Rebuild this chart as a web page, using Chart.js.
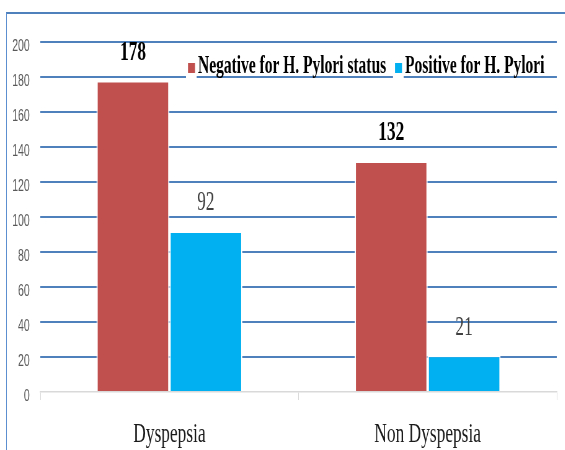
<!DOCTYPE html>
<html>
<head>
<meta charset="utf-8">
<script src="https://cdn.jsdelivr.net/npm/chart.js@4"></script>
<style>
html,body{margin:0;padding:0;background:#fff;overflow:hidden;width:565px;height:450px;}
#c{position:absolute;left:0;top:0;transform:scaleX(0.62);transform-origin:0 0;}
#frame{position:absolute;left:6px;top:12px;width:700px;height:600px;border-top:2px solid #4f81bd;border-left:1.5px solid #5b8fd0;pointer-events:none;}
</style>
</head>
<body>
<canvas id="c" width="911" height="450"></canvas>
<div id="frame"></div>
<script>
const categories = ['Dyspepsia', 'Non Dyspepsia'];
const negativeValues = [178, 132];
const positiveValues = [92, 21];
const seriesNames = ['Negative for H. Pylori status', 'Positive for H. Pylori'];
const yTicks = [0, 20, 40, 60, 80, 100, 120, 140, 160, 180, 200];

const SX = 0.62;

const valueLabels = {
  id: 'valueLabels',
  afterDatasetsDraw(chart) {
    const ctx = chart.ctx;
    ctx.save();
    ctx.textAlign = 'center';
    ctx.textBaseline = 'middle';
    chart.data.datasets.forEach((ds, i) => {
      const meta = chart.getDatasetMeta(i);
      ctx.font = (i === 0 ? 'bold ' : '') + '28px "Liberation Serif", "Times New Roman", serif';
      ctx.fillStyle = i === 0 ? '#000000' : '#404040';
      meta.data.forEach((el, j) => {
        ctx.fillText(String(ds.data[j]), el.x, el.y - 28);
      });
    });
    ctx.restore();
  }
};

const legendPlugin = {
  id: 'customLegend',
  afterDatasetsDraw(chart) {
    const ctx = chart.ctx;
    const items = [
      { mx: 188 / SX, tx: 198 / SX },
      { mx: 395 / SX, tx: 405 / SX }
    ];
    ctx.save();
    ctx.font = 'bold 25px "Liberation Serif", "Times New Roman", serif';
    ctx.textBaseline = 'alphabetic';
    ctx.textAlign = 'left';
    chart.data.datasets.forEach((ds, i) => {
      const it = items[i];
      ctx.fillStyle = '#ffffff';
      ctx.fillRect(it.mx - 2 / SX, 60, it.tx - it.mx + 1, 20);
      ctx.fillStyle = ds.backgroundColor;
      ctx.fillRect(it.mx, 63, 7 / SX, 10);
      ctx.fillStyle = '#000000';
      ctx.fillText(ds.label, it.tx, 73);
    });
    ctx.restore();
  }
};

new Chart(document.getElementById('c'), {
  type: 'bar',
  data: {
    labels: categories,
    datasets: [
      { label: seriesNames[0], data: negativeValues, backgroundColor: '#c0504d', borderColor: '#ffffff', borderWidth: 2 },
      { label: seriesNames[1], data: positiveValues, backgroundColor: '#00b0f0', borderColor: '#ffffff', borderWidth: 2 }
    ]
  },
  options: {
    responsive: false,
    animation: false,
    devicePixelRatio: 1,
    layout: { padding: { left: 0, right: 13, top: 42, bottom: 0 } },
    datasets: { bar: { categoryPercentage: 0.565, barPercentage: 1.0 } },
    plugins: { legend: { display: false }, tooltip: { enabled: false } },
    scales: {
      x: {
        offset: true,
        grid: { display: true, drawOnChartArea: false, drawTicks: true, tickLength: 8, color: '#d9d9d9', offset: true },
        border: { display: true, color: '#d9d9d9', width: 1.5 },
        ticks: {
          padding: 18,
          color: '#1a1a1a',
          font: { family: '"Liberation Serif", "Times New Roman", serif', size: 28 }
        },
        afterFit(scale) { scale.height = 58; }
      },
      y: {
        min: 0,
        max: 200,
        afterBuildTicks(scale) { scale.ticks = yTicks.map(v => ({ value: v })); },
        grid: {
          drawTicks: false,
          lineWidth: 2,
          color: (c) => (c.tick && c.tick.value === 0) ? 'rgba(0,0,0,0)' : '#4f81bd'
        },
        border: { display: false },
        ticks: {
          padding: 17,
          labelOffset: 4,
          color: '#595959',
          font: { family: '"Liberation Sans", Arial, sans-serif', size: 17 }
        },
        afterFit(scale) { scale.width = 65; }
      }
    }
  },
  plugins: [valueLabels, legendPlugin]
});
</script>
</body>
</html>
